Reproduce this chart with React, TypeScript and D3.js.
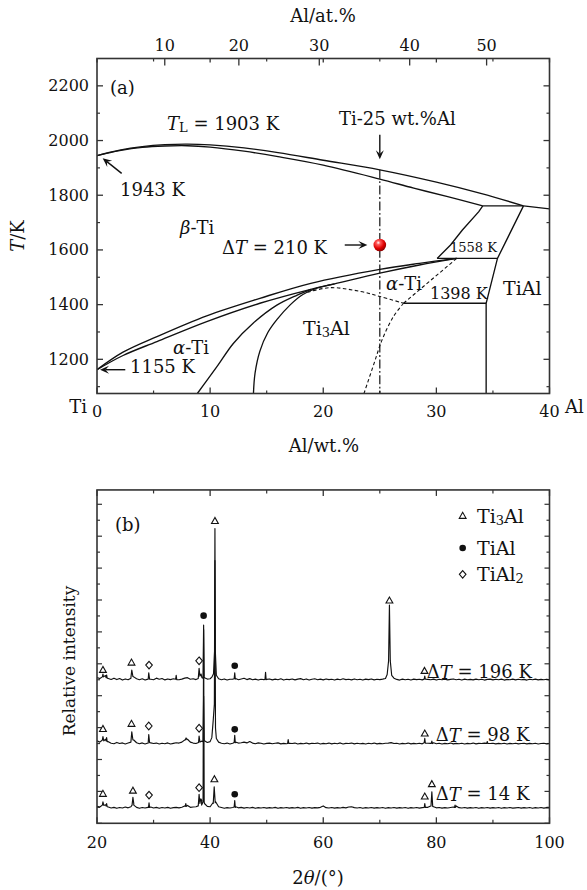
import React from 'react';
import * as d3 from 'd3';

type P = [number, number];

// ================= Panel (a): Ti–Al phase diagram =================
const wtTicks = [0, 10, 20, 30, 40];
const wtMinor = [5, 15, 25, 35];
const atTickLabels = [10, 20, 30, 40, 50];
const atTickWt = [5.99, 12.54, 19.65, 27.64, 34.44];
const tTicks = [1200, 1400, 1600, 1800, 2000, 2200];
const tMinor = [1100, 1300, 1500, 1700, 1900, 2100];

const liquidus: P[] = [[0, 1945], [2, 1965], [4, 1978], [6, 1985], [8, 1987], [10, 1984], [13, 1973], [16, 1956], [20, 1928], [25, 1893], [30, 1848], [34, 1806], [37.7, 1761]];
const liquidusTail: P[] = [[37.7, 1761], [40, 1750]];
const betaSolidus: P[] = [[0, 1945], [2, 1963], [4, 1975], [6, 1980], [8, 1981], [10, 1976], [13, 1961], [16, 1941], [20, 1910], [25, 1859], [28, 1826], [31, 1795], [34.1, 1761]];
const plateauHigh: P[] = [[34.1, 1761], [37.7, 1761]];
const tialBoundary: P[] = [[37.7, 1761], [35.4, 1569], [34.4, 1405], [34.4, 1075]];
const betaBoundary: P[] = [[34.1, 1761], [33.75, 1740], [32.3, 1673], [31.25, 1618], [30.07, 1569]];
const peritectic: P[] = [[30.07, 1569], [35.4, 1569]];
const eutectoid: P[] = [[27.1, 1405], [34.4, 1405]];
const betaTransus: P[] = [[0, 1162], [2.3, 1226], [5.3, 1283], [9.7, 1359], [14.4, 1423], [18.9, 1478], [25, 1529], [28.5, 1551], [31.8, 1569]];
const alphaTransus: P[] = [[0, 1162], [2.3, 1214], [5.3, 1265], [9.7, 1338], [14.4, 1405], [18.9, 1456], [21, 1476], [25, 1515], [28.5, 1545], [31.8, 1569]];
const alphaA2: P[] = [[8.87, 1075], [10.6, 1173], [12.05, 1258], [13.8, 1332], [15.9, 1398], [17.7, 1435], [18.9, 1456]];
const a2Left: P[] = [[13.83, 1075], [13.97, 1149], [14.4, 1230], [15.1, 1298], [15.9, 1345], [17.1, 1400], [18.2, 1437], [19.5, 1461], [21, 1476]];
const dashA2Top: P[] = [[18.6, 1445], [20.6, 1462], [23.3, 1448], [25, 1430], [27.1, 1405]];
const dashUp: P[] = [[27.1, 1405], [31.8, 1569]];
const dashDown: P[] = [[27.1, 1405], [26.2, 1356], [25.2, 1271], [24.5, 1186], [23.6, 1075]];
const alloyLine: P[] = [[25, 1893], [25, 1075]];
const samplePoint: P = [25, 1618];
const arrowAlloy: [P, P] = [[25, 2021], [25, 1932]];
const arrow1943: [P, P] = [[2.18, 1880], [0.5, 1935]];
const arrow1155: [P, P] = [[2.5, 1162], [0.27, 1162]];
const arrowDT: [P, P] = [[21.9, 1618], [23.9, 1618]];

// ================= Panel (b): XRD patterns =================
const thetaTicks = [20, 40, 60, 80, 100];
const thetaMinor = [30, 50, 70, 90];
const intensityTicks = d3.range(0, 21);
const curveLabels = ['196', '98', '14'];
const stackOffsets = [8.98, 4.97, 0.94];

// background, sampled every 0.5° from 20° to 100°
const bg196 = [
  .15, .10, .25, .28, .10, .04, .12, .03, .10, .00,
  .07, .02, .12, .20, .08, .02, .08, .00, .06, .05,
  .02, .12, .05, .10, .01, .07, .03, .08, .00, .02,
  .06, .12, .15, .05, .08, .03, .12, .30, .15, .06,
  .08, .25, .20, .08, .02, .07, .00, .05, .06, .10,
  .02, .07, .11, .03, .09, .02, .06, .00, .05, .03,
  .04, .07, .01, .06, .02, .08, .00, .05, .03, .07,
  .01, .06, .09, .02, .07, .00, .05, .08, .02, .06,
  .01, .07, .03, .05, .00, .06, .02, .08, .03, .05,
  .01, .07, .02, .05, .00, .06, .03, .07, .01, .05,
  .03, .06, .10, .40, .50, .12, .04, .00, .06, .02,
  .05, .00, .06, .03, .05, .01, .10, .04, .02, .06,
  .00, .05, .02, .06, .01, .04, .07, .02, .05, .00,
  .06, .02, .04, .01, .06, .02, .05, .00, .04, .06,
  .01, .05, .02, .06, .00, .04, .02, .06, .01, .05,
  .02, .04, .00, .05, .02, .06, .01, .04, .02, .05,
  .01,
];
const bg98 = [
  .20, .12, .30, .30, .15, .05, .02, .10, .03, .07,
  .00, .06, .12, .25, .08, .02, .07, .00, .06, .07,
  .03, .06, .00, .05, .02, .07, .00, .04, .08, .06,
  .12, .25, .30, .12, .06, .03, .12, .18, .20, .10,
  .15, .50, .30, .12, .05, .02, .06, .00, .05, .12,
  .06, .08, .12, .07, .16, .06, .02, .07, .05, .00,
  .04, .06, .02, .05, .07, .01, .04, .02, .05, .03,
  .06, .00, .04, .02, .06, .01, .05, .03, .06, .00,
  .04, .02, .06, .01, .05, .02, .07, .00, .04, .03,
  .06, .01, .05, .02, .04, .00, .05, .02, .06, .01,
  .04, .02, .05, .06, .09, .03, .05, .00, .04, .02,
  .06, .01, .04, .02, .05, .01, .12, .05, .04, .08,
  .02, .05, .00, .04, .02, .06, .01, .04, .02, .05,
  .00, .04, .02, .06, .01, .04, .03, .06, .10, .03,
  .05, .01, .04, .02, .05, .00, .04, .02, .05, .01,
  .03, .05, .01, .04, .02, .05, .00, .03, .05, .01,
  .03,
];
const bg14 = [
  .12, .08, .25, .22, .08, .02, .06, .00, .05, .02,
  .08, .03, .10, .30, .06, .00, .05, .02, .06, .08,
  .02, .06, .00, .05, .02, .06, .00, .04, .06, .03,
  .07, .15, .18, .06, .08, .10, .20, .50, .30, .12,
  .10, .35, .40, .10, .05, .00, .04, .02, .05, .10,
  .03, .06, .01, .05, .02, .06, .00, .04, .02, .05,
  .01, .04, .02, .06, .00, .04, .02, .05, .01, .04,
  .02, .06, .00, .04, .02, .05, .01, .04, .03, .06,
  .15, .04, .02, .05, .01, .04, .02, .06, .03, .08,
  .10, .04, .02, .05, .00, .04, .02, .05, .01, .04,
  .02, .05, .00, .04, .02, .05, .01, .04, .02, .05,
  .00, .04, .02, .05, .01, .04, .10, .06, .15, .10,
  .03, .05, .01, .04, .02, .05, .08, .15, .04, .02,
  .05, .01, .04, .02, .05, .00, .04, .02, .05, .01,
  .04, .02, .05, .00, .04, .02, .05, .01, .03, .05,
  .01, .04, .02, .05, .00, .04, .02, .05, .01, .04,
  .02,
];
const peaks196: P[][] = [
  [[20.95, 0.2], [21.05, 0.38], [21.15, 0.2]],
  [[21.6, 0.15], [21.7, 0.32], [21.8, 0.12]],
  [[26.0, 0.15], [26.15, 0.63], [26.35, 0.22]],
  [[29.05, 0.05], [29.15, 0.46], [29.3, 0.05]],
  [[33.9, 0.05], [34.0, 0.3], [34.1, 0.03]],
  [[37.9, 0.1], [38.05, 0.73], [38.2, 0.25], [38.4, 0.38], [38.55, 0.15]],
  [[38.75, 0.12], [38.85, 3.45], [38.95, 0.2]],
  [[40.3, 0.18], [40.6, 0.4], [40.78, 1.8], [40.85, 9.5], [40.92, 1.8], [41.1, 0.3]],
  [[44.25, 0.08], [44.35, 0.46], [44.45, 0.06]],
  [[49.7, 0.04], [49.8, 0.48], [49.9, 0.03]],
  [[71.3, 0.35], [71.55, 1.2], [71.7, 4.7], [71.85, 1.2], [72.1, 0.3]],
  [[77.85, 0.06], [77.95, 0.25], [78.05, 0.05]],
];
const peaks98: P[][] = [
  [[20.95, 0.25], [21.05, 0.46], [21.2, 0.2]],
  [[21.6, 0.2], [21.7, 0.4], [21.8, 0.15]],
  [[26.0, 0.15], [26.15, 0.77], [26.35, 0.25]],
  [[29.05, 0.06], [29.15, 0.6], [29.3, 0.08]],
  [[35.6, 0.25], [35.75, 0.38], [35.9, 0.28]],
  [[37.95, 0.1], [38.05, 0.5], [38.2, 0.12]],
  [[38.75, 0.15], [38.85, 3.0], [38.95, 0.2]],
  [[40.3, 0.4], [40.55, 1.5], [40.75, 2.5], [40.85, 11.5], [40.95, 1.0], [41.1, 0.35]],
  [[44.25, 0.1], [44.35, 0.55], [44.45, 0.08]],
  [[53.7, 0.03], [53.8, 0.28], [53.9, 0.04]],
  [[77.85, 0.08], [77.95, 0.35], [78.05, 0.06]],
  [[79.1, 0.04], [79.2, 0.18], [79.3, 0.03]],
  [[88.9, 0.04], [89.0, 0.16], [89.1, 0.03]],
];
const peaks14: P[][] = [
  [[20.95, 0.2], [21.05, 0.41], [21.2, 0.18]],
  [[21.6, 0.15], [21.7, 0.3], [21.8, 0.1]],
  [[26.2, 0.2], [26.35, 0.69], [26.5, 0.2]],
  [[29.1, 0.05], [29.2, 0.35], [29.3, 0.05]],
  [[35.6, 0.12], [35.7, 0.3], [35.8, 0.12]],
  [[37.9, 0.15], [38.05, 0.88], [38.2, 0.3], [38.35, 0.6], [38.5, 0.2]],
  [[38.75, 0.4], [38.85, 11.2], [38.95, 0.4]],
  [[40.55, 0.3], [40.72, 1.35], [40.9, 0.35]],
  [[44.25, 0.08], [44.35, 0.48], [44.45, 0.05]],
  [[77.85, 0.05], [77.95, 0.3], [78.05, 0.06]],
  [[79.05, 0.15], [79.2, 1.04], [79.35, 0.12]],
  [[83.2, 0.05], [83.3, 0.2], [83.4, 0.06]],
];
type Mk = [number, number, 't' | 'd' | 'c'];
const markers196: Mk[] = [[21.05, 9.61, 't'], [26.1, 10.07, 't'], [29.2, 9.92, 'd'], [38.05, 10.19, 'd'], [38.85, 13.02, 'c'], [40.85, 18.95, 't'], [44.35, 9.88, 'c'], [71.7, 13.96, 't'], [77.9, 9.55, 't']];
const markers98: Mk[] = [[21.05, 5.91, 't'], [26.1, 6.23, 't'], [29.15, 6.1, 'd'], [38.05, 5.96, 'd'], [44.35, 5.89, 'c'], [77.95, 5.62, 't']];
const markers14: Mk[] = [[21.05, 1.84, 't'], [26.35, 2.04, 't'], [29.2, 1.77, 'd'], [38.05, 2.23, 'd'], [40.75, 2.76, 't'], [44.35, 1.82, 'c'], [77.95, 1.67, 't'], [79.2, 2.45, 't']];
const legendItems: [string, 't' | 'c' | 'd'][] = [['Ti3Al', 't'], ['TiAl', 'c'], ['TiAl2', 'd']];
const legendY = [19.27, 17.26, 15.61];
const legendX = 84.65;
const labelPos: P[] = [[78.3, 9.5], [79.9, 5.55], [79.9, 1.84]];

// ================= scales =================
const xW = d3.scaleLinear().domain([0, 40]).range([97, 549.5]);
const yT = d3.scaleLinear().domain([1075, 2300]).range([393.5, 58.5]);
const x2 = d3.scaleLinear().domain([20, 100]).range([97, 549.5]);
const yI = d3.scaleLinear().domain([0, 20.9]).range([823.3, 489.94]);

const FONT = "'DejaVu Serif', serif";
const INK = '#111';
const AX = '#333';

const lineA = d3.line<P>().x(d => xW(d[0])).y(d => yT(d[1]));
const curveA = d3.line<P>().x(d => xW(d[0])).y(d => yT(d[1])).curve(d3.curveCatmullRom.alpha(0.5));
const lineB = d3.line<P>().x(d => x2(d[0])).y(d => yI(d[1]));

function buildCurve(bg: number[], peaks: P[][], offset: number): P[] {
  const grid: P[] = bg.map((v, i) => [20 + i * 0.5, v]);
  const kept = grid.filter(([x]) => !peaks.some(g => x > g[0][0] && x < g[g.length - 1][0]));
  const all = kept.concat(...peaks).sort((a, b) => a[0] - b[0]);
  return all.map(([x, y]) => [x, y + offset] as P);
}

function Arrow({ a, b }: { a: P; b: P }) {
  const x1 = xW(a[0]), y1 = yT(a[1]), xe = xW(b[0]), ye = yT(b[1]);
  const ang = Math.atan2(ye - y1, xe - x1);
  const c = Math.cos(ang), s = Math.sin(ang);
  const p = (dx: number, dy: number) => [xe + dx * c - dy * s, ye + dx * s + dy * c];
  const L = 9, W = 4;
  const back = p(-L * 0.6, 0);
  const pts = [p(0, 0), p(-L, -W), back, p(-L, W)];
  return (
    <g>
      <line x1={x1} y1={y1} x2={back[0]} y2={back[1]} stroke={INK} strokeWidth={1.4} />
      <path d={'M' + pts.map(q => q.join(',')).join('L') + 'Z'} fill={INK} />
    </g>
  );
}

function Marker({ x, y, t }: { x: number; y: number; t: string }) {
  if (t === 't') return <path d={`M${x},${y - 3.6}L${x - 3.4},${y + 2.4}L${x + 3.4},${y + 2.4}Z`} fill="#fff" stroke={INK} strokeWidth={1.1} />;
  if (t === 'd') return <path d={`M${x},${y - 3.8}L${x + 3.3},${y}L${x},${y + 3.8}L${x - 3.3},${y}Z`} fill="#fff" stroke={INK} strokeWidth={1.1} />;
  return <circle cx={x} cy={y} r={3.3} fill={INK} />;
}

function Formula({ name }: { name: string }) {
  if (name === 'Ti3Al') return <>Ti<tspan dy={4} fontSize={13}>3</tspan><tspan dy={-4}>Al</tspan></>;
  if (name === 'TiAl2') return <>TiAl<tspan dy={4} fontSize={13}>2</tspan></>;
  return <>{name}</>;
}

export default function App() {
  const curves = [
    buildCurve(bg196, peaks196, stackOffsets[0]),
    buildCurve(bg98, peaks98, stackOffsets[1]),
    buildCurve(bg14, peaks14, stackOffsets[2]),
  ];
  const allMarkers = [...markers196, ...markers98, ...markers14];
  const [top, bottom, left, right] = [58.5, 393.5, 97, 549.5];
  const [btop, bbot] = [489.94, 823.3];

  const solidLines = [betaSolidus, betaTransus, alphaTransus, alphaA2, a2Left];
  const straightLines = [liquidusTail, plateauHigh, tialBoundary, betaBoundary, peritectic, eutectoid];

  return (
    <svg width={587} height={890} style={{ position: 'absolute', left: 0, top: 0, background: '#fff' }} fontFamily={FONT}>
      <defs>
        <radialGradient id="ball" cx="38%" cy="32%" r="70%">
          <stop offset="0%" stopColor="#fff" />
          <stop offset="22%" stopColor="#ff5a5a" />
          <stop offset="65%" stopColor="#e00000" />
          <stop offset="100%" stopColor="#8a0000" />
        </radialGradient>
        <clipPath id="clipA"><rect x={left} y={top} width={right - left} height={bottom - top} /></clipPath>
        <clipPath id="clipB"><rect x={left} y={btop} width={right - left} height={bbot - btop} /></clipPath>
      </defs>

      {/* ===== Panel (a) ===== */}
      <text x={323} y={15} fontSize={18} textAnchor="middle" dominantBaseline="central" fill={INK}>Al/at.%</text>
      {atTickLabels.map((v, i) => (
        <g key={'at' + v}>
          <line x1={xW(atTickWt[i])} x2={xW(atTickWt[i])} y1={top} y2={top + 7} stroke={AX} strokeWidth={1.3} />
          <text x={xW(atTickWt[i])} y={45} fontSize={16} textAnchor="middle" dominantBaseline="central" fill={INK}>{v}</text>
        </g>
      ))}
      {wtTicks.map(v => (
        <g key={'wt' + v}>
          <line x1={xW(v)} x2={xW(v)} y1={bottom} y2={bottom - 6} stroke={AX} strokeWidth={1.3} />
          <line x1={xW(v)} x2={xW(v)} y1={top} y2={top + 4} stroke={AX} strokeWidth={1.3} />
          <text x={xW(v)} y={411.7} fontSize={16} textAnchor="middle" dominantBaseline="central" fill={INK}>{v}</text>
        </g>
      ))}
      {wtMinor.map(v => (
        <g key={'wtm' + v}>
          <line x1={xW(v)} x2={xW(v)} y1={bottom} y2={bottom - 3} stroke={AX} strokeWidth={1.2} />
          <line x1={xW(v)} x2={xW(v)} y1={top} y2={top + 3} stroke={AX} strokeWidth={1.2} />
        </g>
      ))}
      {tTicks.map(v => (
        <g key={'t' + v}>
          <line x1={left} x2={left + 6} y1={yT(v)} y2={yT(v)} stroke={AX} strokeWidth={1.3} />
          <line x1={right} x2={right - 6} y1={yT(v)} y2={yT(v)} stroke={AX} strokeWidth={1.3} />
          <text x={89} y={yT(v)} fontSize={16} textAnchor="end" dominantBaseline="central" fill={INK}>{v}</text>
        </g>
      ))}
      {tMinor.map(v => (
        <g key={'tm' + v}>
          <line x1={left} x2={left + 3} y1={yT(v)} y2={yT(v)} stroke={AX} strokeWidth={1.2} />
          <line x1={right} x2={right - 3} y1={yT(v)} y2={yT(v)} stroke={AX} strokeWidth={1.2} />
        </g>
      ))}
      <text x={87} y={406} fontSize={18} textAnchor="end" dominantBaseline="central" fill={INK}>Ti</text>
      <text x={565} y={406} fontSize={18} textAnchor="start" dominantBaseline="central" fill={INK}>Al</text>
      <text x={324} y={445} fontSize={18} textAnchor="middle" dominantBaseline="central" fill={INK}>Al/wt.%</text>
      <text transform="translate(17,236) rotate(-90)" fontSize={18} textAnchor="middle" dominantBaseline="central" fill={INK}>
        <tspan fontStyle="italic">T</tspan>/K
      </text>

      <g clipPath="url(#clipA)" fill="none" stroke={INK} strokeWidth={1.35}>
        <path d={curveA(liquidus) || ''} />
        {solidLines.map((l, i) => <path key={'s' + i} d={curveA(l) || ''} />)}
        {straightLines.map((l, i) => <path key={'l' + i} d={lineA(l) || ''} />)}
        <path d={curveA(dashA2Top) || ''} strokeDasharray="3.5,2.5" strokeWidth={1.1} />
        <path d={lineA(dashUp) || ''} strokeDasharray="3.5,2.5" strokeWidth={1.1} />
        <path d={curveA(dashDown) || ''} strokeDasharray="3.5,2.5" strokeWidth={1.1} />
        <path d={lineA(alloyLine) || ''} strokeDasharray="9,2.5,1.8,2.5" strokeWidth={1.2} />
      </g>
      <rect x={left} y={top} width={right - left} height={bottom - top} fill="none" stroke={AX} strokeWidth={1.6} />

      <Arrow a={arrowAlloy[0]} b={arrowAlloy[1]} />
      <Arrow a={arrow1943[0]} b={arrow1943[1]} />
      <Arrow a={arrow1155[0]} b={arrow1155[1]} />
      <Arrow a={arrowDT[0]} b={arrowDT[1]} />
      <circle cx={xW(samplePoint[0])} cy={yT(samplePoint[1])} r={6.3} fill="url(#ball)" />

      <g fill={INK} dominantBaseline="central">
        <text x={110} y={87} fontSize={18}>(a)</text>
        <text x={167} y={123} fontSize={18}><tspan fontStyle="italic">T</tspan><tspan dy={4} fontSize={13}>L</tspan><tspan dy={-4}> = 1903 K</tspan></text>
        <text x={339} y={118} fontSize={18}>Ti-25 wt.%Al</text>
        <text x={120} y={189} fontSize={18}>1943 K</text>
        <text x={180} y={227} fontSize={18}><tspan fontStyle="italic">β</tspan>-Ti</text>
        <text x={222} y={247} fontSize={18}>Δ<tspan fontStyle="italic">T</tspan> = 210 K</text>
        <text x={450} y={247} fontSize={13}>1558 K</text>
        <text x={386} y={283} fontSize={18}><tspan fontStyle="italic">α</tspan>-Ti</text>
        <text x={430} y={293} fontSize={16}>1398 K</text>
        <text x={503} y={288} fontSize={19}>TiAl</text>
        <text x={303} y={328} fontSize={19}><Formula name="Ti3Al" /></text>
        <text x={173} y={347} fontSize={18}><tspan fontStyle="italic">α</tspan>-Ti</text>
        <text x={130} y={366} fontSize={18}>1155 K</text>
      </g>

      {/* ===== Panel (b) ===== */}
      {thetaTicks.map(v => (
        <g key={'th' + v}>
          <line x1={x2(v)} x2={x2(v)} y1={bbot} y2={bbot - 6} stroke={AX} strokeWidth={1.3} />
          <line x1={x2(v)} x2={x2(v)} y1={btop} y2={btop + 6} stroke={AX} strokeWidth={1.3} />
          <text x={x2(v)} y={842.7} fontSize={16} textAnchor="middle" dominantBaseline="central" fill={INK}>{v}</text>
        </g>
      ))}
      {thetaMinor.map(v => (
        <g key={'thm' + v}>
          <line x1={x2(v)} x2={x2(v)} y1={bbot} y2={bbot - 3.5} stroke={AX} strokeWidth={1.2} />
          <line x1={x2(v)} x2={x2(v)} y1={btop} y2={btop + 3.5} stroke={AX} strokeWidth={1.2} />
        </g>
      ))}
      {intensityTicks.map(v => {
        const len = v % 2 === 0 ? 5 : 3;
        return (
          <g key={'it' + v}>
            <line x1={left} x2={left + len} y1={yI(v)} y2={yI(v)} stroke={AX} strokeWidth={1.2} />
            <line x1={right} x2={right - len} y1={yI(v)} y2={yI(v)} stroke={AX} strokeWidth={1.2} />
          </g>
        );
      })}
      <text x={318} y={877} fontSize={18} textAnchor="middle" dominantBaseline="central" fill={INK}>2<tspan fontStyle="italic">θ</tspan>/(°)</text>
      <text transform="translate(69,661) rotate(-90)" fontSize={17} textAnchor="middle" dominantBaseline="central" fill={INK}>Relative intensity</text>

      <g clipPath="url(#clipB)" fill="none" stroke={INK} strokeWidth={1.15} strokeLinejoin="round">
        {curves.map((c, i) => <path key={'c' + i} d={lineB(c) || ''} />)}
      </g>
      <rect x={left} y={btop} width={right - left} height={bbot - btop} fill="none" stroke={AX} strokeWidth={1.6} />

      {allMarkers.map((m, i) => <Marker key={'m' + i} x={x2(m[0])} y={yI(m[1])} t={m[2]} />)}
      {curveLabels.map((lab, i) => (
        <text key={'lab' + i} x={x2(labelPos[i][0])} y={yI(labelPos[i][1])} fontSize={18} dominantBaseline="central" fill={INK}>
          Δ<tspan fontStyle="italic">T</tspan> = {lab} K
        </text>
      ))}
      <text x={115} y={524} fontSize={18} dominantBaseline="central" fill={INK}>(b)</text>
      {legendItems.map(([name, t], i) => (
        <g key={'lg' + i}>
          <Marker x={x2(legendX)} y={yI(legendY[i])} t={t} />
          <text x={477} y={yI(legendY[i])} fontSize={19} dominantBaseline="central" fill={INK}><Formula name={name} /></text>
        </g>
      ))}
    </svg>
  );
}
